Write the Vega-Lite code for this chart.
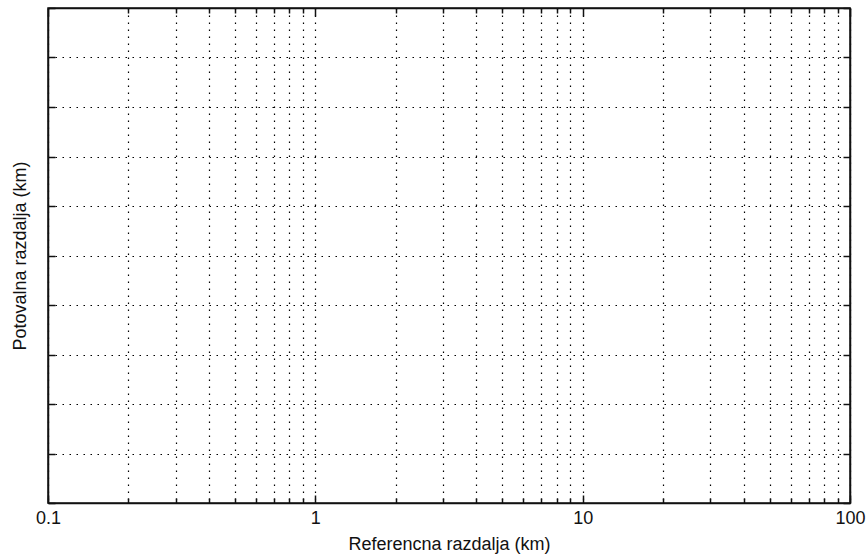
{
  "$schema": "https://vega.github.io/schema/vega-lite/v6.json",
  "width": 802,
  "height": 495,
  "autosize": {"type": "none"},
  "padding": {"left": 48, "top": 8, "right": 16, "bottom": 53},
  "background": "#ffffff",
  "config": {
    "view": {"stroke": "#111111", "strokeWidth": 1.5},
    "font": "Liberation Sans",
    "axis": {
      "domainColor": "#111111",
      "domainWidth": 1.5,
      "tickColor": "#111111",
      "tickWidth": 1.5,
      "gridColor": "#000000",
      "gridDash": [1.5, 5.5],
      "gridOpacity": 1,
      "gridWidth": 1.2,
      "labelFont": "Liberation Sans",
      "labelFontSize": 18,
      "labelColor": "#111111",
      "titleFont": "Liberation Sans",
      "titleFontSize": 18,
      "titleFontWeight": "normal",
      "titleColor": "#111111",
      "labelFlush": false,
      "labelOverlap": false
    }
  },
  "data": {"values": [{"x": 0.1, "y": 0}, {"x": 100, "y": 1}]},
  "layer": [
    {
      "mark": {"type": "point", "opacity": 0},
      "encoding": {
        "x": {
          "field": "x",
          "type": "quantitative",
          "scale": {"type": "log", "domain": [0.1, 100], "nice": false},
          "axis": {
            "orient": "bottom",
            "values": [0.1, 0.2, 0.3, 0.4, 0.5, 0.6, 0.7, 0.8, 0.9, 1, 2, 3, 4, 5, 6, 7, 8, 9, 10, 20, 30, 40, 50, 60, 70, 80, 90, 100],
            "grid": true,
            "tickSize": {"condition": {"test": "indexof([0.1, 1, 10, 100], datum.value) >= 0", "value": -8}, "value": -5},
            "labelPadding": 14,
            "labelExpr": "indexof([0.1, 1, 10, 100], datum.value) >= 0 ? toString(datum.value) : ''",
            "title": "Referencna razdalja (km)",
            "titlePadding": 5
          }
        },
        "y": {
          "field": "y",
          "type": "quantitative",
          "scale": {"domain": [0, 1], "nice": false, "zero": false},
          "axis": {
            "orient": "left",
            "values": [0, 0.1, 0.2, 0.3, 0.4, 0.5, 0.6, 0.7, 0.8, 0.9, 1],
            "grid": true,
            "labels": false,
            "tickSize": -7,
            "title": "Potovalna razdalja (km)",
            "titlePadding": 17.5
          }
        }
      }
    },
    {
      "mark": {"type": "point", "opacity": 0},
      "encoding": {
        "x": {
          "field": "x",
          "type": "quantitative",
          "axis": {
            "orient": "top",
            "values": [0.1, 0.2, 0.3, 0.4, 0.5, 0.6, 0.7, 0.8, 0.9, 1, 2, 3, 4, 5, 6, 7, 8, 9, 10, 20, 30, 40, 50, 60, 70, 80, 90, 100],
            "grid": false,
            "labels": false,
            "tickSize": {"condition": {"test": "indexof([0.1, 1, 10, 100], datum.value) >= 0", "value": -8}, "value": -5},
            "title": null
          }
        },
        "y": {
          "field": "y",
          "type": "quantitative",
          "axis": {
            "orient": "right",
            "values": [0, 0.1, 0.2, 0.3, 0.4, 0.5, 0.6, 0.7, 0.8, 0.9, 1],
            "grid": false,
            "labels": false,
            "tickSize": -7,
            "title": null
          }
        }
      }
    }
  ],
  "resolve": {"axis": {"x": "independent", "y": "independent"}}
}
